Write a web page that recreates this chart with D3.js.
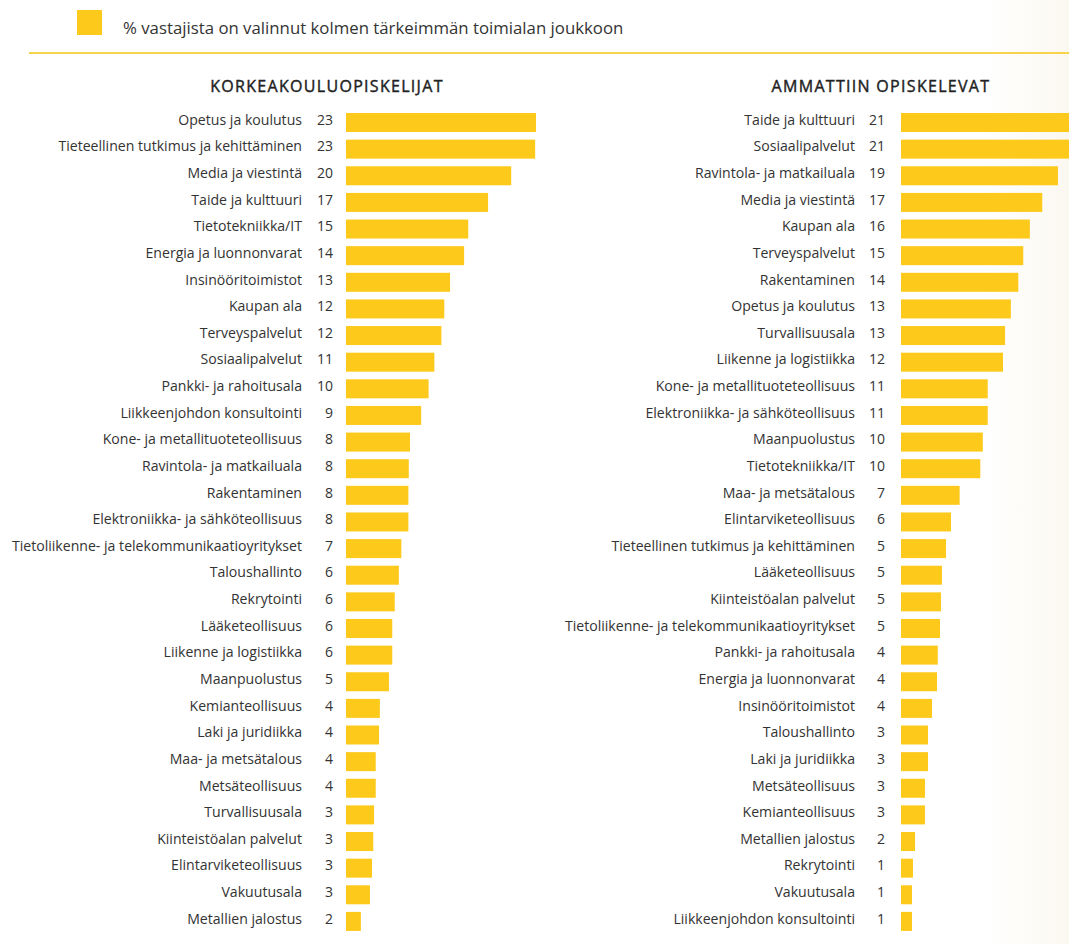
<!DOCTYPE html>
<html lang="fi">
<head>
<meta charset="utf-8">
<script src="https://cdn.jsdelivr.net/npm/d3@7"></script>
<style>
  html, body { margin: 0; padding: 0; background: #ffffff; }
  svg { display: block; }
  text { font-family: "Open Sans", "Noto Sans", sans-serif; fill: #333333; }
</style>
</head>
<body>
<svg id="chart" width="1069" height="944"></svg>
<script>
// Korkeakouluopiskelijat: toimiala ja osuus vastaajista (%)
const korkeakouluCategories = [
  "Opetus ja koulutus", "Tieteellinen tutkimus ja kehittäminen", "Media ja viestintä",
  "Taide ja kulttuuri", "Tietotekniikka/IT", "Energia ja luonnonvarat", "Insinööritoimistot",
  "Kaupan ala", "Terveyspalvelut", "Sosiaalipalvelut", "Pankki- ja rahoitusala",
  "Liikkeenjohdon konsultointi", "Kone- ja metallituoteteollisuus", "Ravintola- ja matkailuala",
  "Rakentaminen", "Elektroniikka- ja sähköteollisuus",
  "Tietoliikenne- ja telekommunikaatioyritykset", "Taloushallinto", "Rekrytointi",
  "Lääketeollisuus", "Liikenne ja logistiikka", "Maanpuolustus", "Kemianteollisuus",
  "Laki ja juridiikka", "Maa- ja metsätalous", "Metsäteollisuus", "Turvallisuusala",
  "Kiinteistöalan palvelut", "Elintarviketeollisuus", "Vakuutusala", "Metallien jalostus"
];
const korkeakouluValues = [
  23.0, 22.9, 20.0, 17.2, 14.8, 14.3, 12.6, 11.9, 11.55, 10.7, 10.0,
  9.1, 7.75, 7.6, 7.55, 7.55, 6.7, 6.4, 5.9, 5.6, 5.6, 5.2, 4.1,
  4.0, 3.6, 3.6, 3.4, 3.3, 3.15, 2.9, 1.8
];

// Ammattiin opiskelevat: toimiala ja osuus vastaajista (%)
const ammattiCategories = [
  "Taide ja kulttuuri", "Sosiaalipalvelut", "Ravintola- ja matkailuala", "Media ja viestintä",
  "Kaupan ala", "Terveyspalvelut", "Rakentaminen", "Opetus ja koulutus", "Turvallisuusala",
  "Liikenne ja logistiikka", "Kone- ja metallituoteteollisuus",
  "Elektroniikka- ja sähköteollisuus", "Maanpuolustus", "Tietotekniikka/IT",
  "Maa- ja metsätalous", "Elintarviketeollisuus", "Tieteellinen tutkimus ja kehittäminen",
  "Lääketeollisuus", "Kiinteistöalan palvelut", "Tietoliikenne- ja telekommunikaatioyritykset",
  "Pankki- ja rahoitusala", "Energia ja luonnonvarat", "Insinööritoimistot", "Taloushallinto",
  "Laki ja juridiikka", "Metsäteollisuus", "Kemianteollisuus", "Metallien jalostus",
  "Rekrytointi", "Vakuutusala", "Liikkeenjohdon konsultointi"
];
const ammattiValues = [
  21.0, 21.0, 19.0, 17.1, 15.6, 14.8, 14.2, 13.3, 12.6, 12.35, 10.5,
  10.5, 9.9, 9.6, 7.1, 6.05, 5.45, 4.96, 4.84, 4.72, 4.45, 4.36, 3.75,
  3.27, 3.27, 2.9, 2.9, 1.7, 1.45, 1.33, 1.33
];

const panelTitles = ["KORKEAKOULUOPISKELIJAT", "AMMATTIIN OPISKELEVAT"];
const legendText = "% vastajista on valinnut kolmen tärkeimmän toimialan joukkoon";

const BAR_COLOR = "#fdc91b";
const svg = d3.select("#chart");

// soft warm tint fading in along the right edge
const defs = svg.append("defs");
const grad = defs.append("linearGradient").attr("id", "edgeTint")
  .attr("x1", "0").attr("x2", "1").attr("y1", "0").attr("y2", "0");
grad.append("stop").attr("offset", "0").attr("stop-color", "#ffffff");
grad.append("stop").attr("offset", "1").attr("stop-color", "#fbf8f0");
svg.append("rect").attr("x", 985).attr("y", 0).attr("width", 84).attr("height", 944)
  .attr("fill", "url(#edgeTint)");

// legend
svg.append("rect").attr("x", 77).attr("y", 10).attr("width", 25).attr("height", 25)
  .attr("fill", BAR_COLOR);
svg.append("text").attr("x", 123).attr("y", 29).attr("dominant-baseline", "middle")
  .style("font-size", "16.8px").text(legendText);

// separator line
svg.append("line").attr("x1", 29).attr("x2", 1069).attr("y1", 53).attr("y2", 53)
  .attr("stroke", "#f8d34c").attr("stroke-width", 2);

// shared value scale so both panels read alike
const x = d3.scaleLinear().domain([0, 25]).range([0, 206.5]);

function drawPanel(categories, values, title, x0, titleX, numGap, labelGap) {
  const data = categories.map((c, i) => ({ cat: c, val: values[i] }));
  const step = 26.63;
  const y = d3.scaleBand()
    .domain(categories)
    .range([109.2, 109.2 + step * categories.length])
    .paddingInner(1 - 19 / step)
    .paddingOuter((1 - 19 / step) / 2);

  const g = svg.append("g");

  // panel heading, slightly thickened with a hairline stroke
  g.append("text").attr("x", titleX).attr("y", 88)
    .attr("text-anchor", "middle").attr("dominant-baseline", "middle")
    .style("font-size", "16px").style("font-weight", "400")
    .style("letter-spacing", "1.3px").style("fill", "#222")
    .style("stroke", "#222").style("stroke-width", "0.4px")
    .text(title);

  g.selectAll("rect.bar").data(data).join("rect")
    .attr("class", "bar")
    .attr("x", x0)
    .attr("y", d => y(d.cat))
    .attr("width", d => x(d.val))
    .attr("height", y.bandwidth())
    .attr("fill", BAR_COLOR);

  g.selectAll("text.num").data(data).join("text")
    .attr("class", "num")
    .attr("x", x0 - numGap)
    .attr("y", d => y(d.cat) + y.bandwidth() / 2 - 1.5)
    .attr("text-anchor", "end").attr("dominant-baseline", "middle")
    .style("font-size", "14px")
    .text(d => Math.round(d.val));

  g.selectAll("text.cat").data(data).join("text")
    .attr("class", "cat")
    .attr("x", x0 - labelGap)
    .attr("y", d => y(d.cat) + y.bandwidth() / 2 - 1.5)
    .attr("text-anchor", "end").attr("dominant-baseline", "middle")
    .style("font-size", "14.1px")
    .text(d => d.cat);
}

drawPanel(korkeakouluCategories, korkeakouluValues, panelTitles[0], 346, 327, 13, 44);
drawPanel(ammattiCategories, ammattiValues, panelTitles[1], 901, 881, 16, 46);
</script>
</body>
</html>
